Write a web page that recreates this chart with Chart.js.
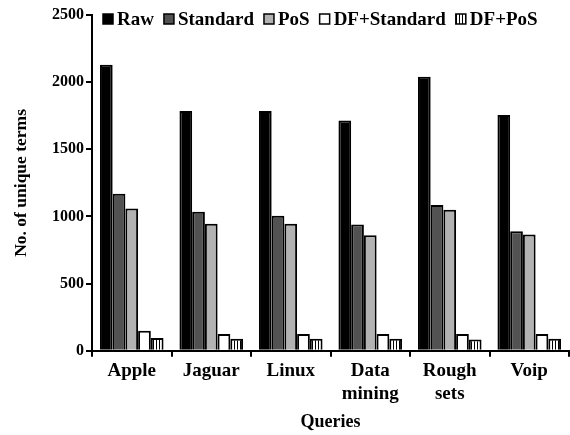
<!DOCTYPE html>
<html>
<head>
<meta charset="utf-8">
<script src="https://cdn.jsdelivr.net/npm/chart.js@4.4.1/dist/chart.umd.min.js"></script>
<style>
  html, body { margin: 0; padding: 0; background: #fff; }
  #wrap { width: 570px; height: 435px; }
</style>
</head>
<body>
<div id="wrap"><canvas id="chart"></canvas></div>
<script>
const queries = ['Apple', 'Jaguar', 'Linux', ['Data', 'mining'], ['Rough', 'sets'], 'Voip'];
const raw = [2130, 1785, 1785, 1715, 2040, 1755];
const standard = [1170, 1035, 1005, 940, 1085, 890];
const pos = [1060, 945, 945, 860, 1050, 865];
const dfStandard = [150, 125, 125, 125, 125, 125];
const dfPos = [95, 90, 90, 90, 85, 90];
const yTicks = [0, 500, 1000, 1500, 2000, 2500];

const serif = '"Liberation Serif", "Times New Roman", serif';

// vertical stripes for DF+PoS
function stripes() {
    const c = document.createElement('canvas');
    c.width = 3;
    c.height = 4;
    const g = c.getContext('2d');
    g.fillStyle = '#fff';
    g.fillRect(0, 0, 3, 4);
    g.fillStyle = '#000';
    g.fillRect(0, 0, 1, 4);
    return g.createPattern(c, 'repeat');
}

function bars(label, data, fill) {
    return {
        label: label,
        data: data,
        backgroundColor: fill,
        borderColor: '#000',
        borderWidth: 2,
        borderSkipped: 'bottom'
    };
}

// legend drawn in one row over the top of the plot
const topLegend = {
    id: 'topLegend',
    afterDraw(chart) {
        const c = chart.ctx;
        let x = 103;
        const y = 19;
        c.save();
        c.font = 'bold 19px ' + serif;
        c.textBaseline = 'middle';
        chart.data.datasets.forEach(ds => {
            c.fillStyle = ds.backgroundColor;
            c.fillRect(x, y - 5, 10, 10);
            c.strokeStyle = '#000';
            c.lineWidth = 1.5;
            c.strokeRect(x, y - 5, 10, 10);
            c.fillStyle = '#000';
            c.fillText(ds.label, x + 14, y + 1);
            x += 14 + c.measureText(ds.label).width + 10;
        });
        c.restore();
    }
};

const ctx = document.getElementById('chart').getContext('2d');
new Chart(ctx, {
    type: 'bar',
    data: {
        labels: queries,
        datasets: [
            bars('Raw', raw, '#000'),
            bars('Standard', standard, '#525252'),
            bars('PoS', pos, '#b2b2b2'),
            bars('DF+Standard', dfStandard, '#fff'),
            bars('DF+PoS', dfPos, stripes())
        ]
    },
    plugins: [topLegend],
    options: {
        responsive: true,
        maintainAspectRatio: false,
        animation: false,
        categoryPercentage: 0.8,
        barPercentage: 1.0,
        layout: { padding: { left: 9, right: 1, top: 15, bottom: 2 } },
        plugins: {
            legend: { display: false },
            tooltip: { enabled: false }
        },
        scales: {
            x: {
                grid: {
                    offset: true,
                    drawOnChartArea: false,
                    drawTicks: true,
                    tickLength: 6,
                    color: '#000',
                    lineWidth: 2
                },
                border: { color: '#000', width: 2 },
                ticks: { color: '#000', font: { family: serif, size: 19, weight: 'bold' }, maxRotation: 0, padding: 3 },
                title: {
                    display: true,
                    text: 'Queries',
                    color: '#000',
                    font: { family: serif, size: 18, weight: 'bold' },
                    padding: { top: 3, bottom: 0 }
                }
            },
            y: {
                min: 0,
                max: 2500,
                afterBuildTicks: axis => { axis.ticks = yTicks.map(v => ({ value: v })); },
                grid: {
                    drawOnChartArea: false,
                    drawTicks: true,
                    tickLength: 6,
                    color: '#000',
                    lineWidth: 2
                },
                border: { color: '#000', width: 2 },
                ticks: {
                    color: '#000',
                    font: { family: serif, size: 16, weight: 'bold' },
                    padding: 2,
                    callback: v => String(v)
                },
                title: {
                    display: true,
                    text: 'No. of unique terms',
                    color: '#000',
                    font: { family: serif, size: 17.5, weight: 'bold' },
                    padding: { top: 2, bottom: 18 }
                }
            }
        }
    }
});
</script>
</body>
</html>
